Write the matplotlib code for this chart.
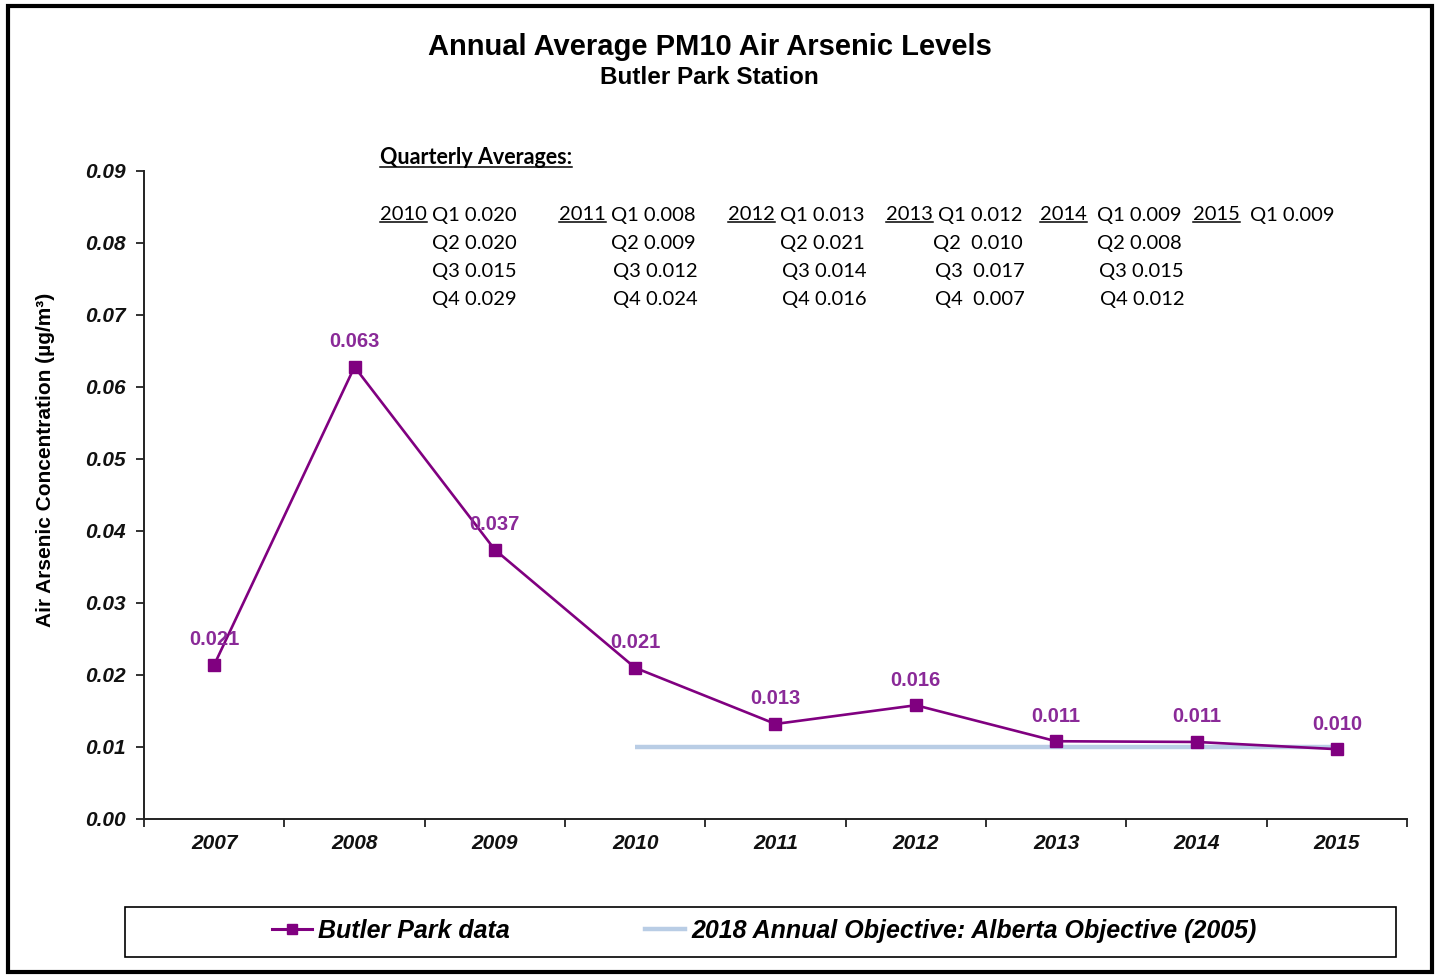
import matplotlib
matplotlib.use("Agg")
import matplotlib.pyplot as plt
from matplotlib.lines import Line2D
from matplotlib.patches import Rectangle

# ---- data ----
years = ["2007", "2008", "2009", "2010", "2011", "2012", "2013", "2014", "2015"]
annual_avg = [0.0214, 0.0628, 0.0374, 0.0210, 0.0132, 0.0158, 0.0108, 0.0107, 0.0097]
objective_years = ["2010", "2011", "2012", "2013", "2014", "2015"]
objective_vals = [0.010, 0.010, 0.010, 0.010, 0.010, 0.010]

q_years = ["2010", "2011", "2012", "2013", "2014", "2015"]
q_text = [
    ["Q1 0.020", "Q2 0.020", "Q3 0.015", "Q4 0.029"],
    ["Q1 0.008", "Q2 0.009", "Q3 0.012", "Q4 0.024"],
    ["Q1 0.013", "Q2 0.021", "Q3 0.014", "Q4 0.016"],
    ["Q1 0.012", "Q2  0.010", "Q3  0.017", "Q4  0.007"],
    ["Q1 0.009", "Q2 0.008", "Q3 0.015", "Q4 0.012"],
    ["Q1 0.009"],
]

W, H = 1439, 976
fig = plt.figure(figsize=(W / 100, H / 100), dpi=100)
fig.patch.set_facecolor("white")

SANS = ["Liberation Sans", "DejaVu Sans"]
CAL = ["Lato", "Liberation Sans", "DejaVu Sans"]
purple = "#800080"
label_purple = "#8a2a98"
obj_blue = "#b9cde5"

def fx(px):
    return px / W

def fy(py):
    return 1 - py / H

ax = fig.add_axes([fx(144), fy(819), fx(1407) - fx(144), fy(171) - fy(819)])
x = list(range(len(years)))
xo = [years.index(y) for y in objective_years]

ax.plot(xo, objective_vals, color=obj_blue, lw=3.2, solid_capstyle="butt", zorder=2)
ax.plot(x, annual_avg, color=purple, lw=1.9, marker="s", markersize=8.5,
        markerfacecolor=purple, markeredgecolor=purple, zorder=3)
for xi, v in zip(x, annual_avg):
    ax.annotate(f"{v:.3f}", (xi, v), xytext=(0, 18), textcoords="offset points",
                ha="center", va="center", color=label_purple, fontsize=14.5,
                fontweight="bold", family=SANS, zorder=4)

ax.set_xlim(-0.5, len(years) - 0.5)
ax.set_ylim(0, 0.09)
ax.set_yticks([i / 100 for i in range(10)])
ax.set_yticklabels([f"{i / 100:.2f}" for i in range(10)])
ax.set_xticks(x)
ax.set_xticklabels(years)
ax.set_xticks([i - 0.5 for i in range(len(years) + 1)], minor=True)
ax.tick_params(axis="x", which="major", length=0, pad=11)
ax.tick_params(axis="x", which="minor", length=6, width=1.3, direction="out", color="#222222")
ax.tick_params(axis="y", length=6, width=1.3, direction="out", color="#222222", pad=7)
for lab in ax.get_xticklabels() + ax.get_yticklabels():
    lab.set_fontfamily(SANS)
    lab.set_fontweight("bold")
    lab.set_fontstyle("italic")
    lab.set_fontsize(15)
    lab.set_color("#111111")
for s in ["top", "right"]:
    ax.spines[s].set_visible(False)
for s in ["left", "bottom"]:
    ax.spines[s].set_linewidth(1.4)
    ax.spines[s].set_color("#222222")
ax.set_facecolor("white")

fig.text(fx(46), fy(460), "Air Arsenic Concentration (µg/m³)", rotation=90,
         ha="center", va="center", fontsize=15, fontweight="bold", family=SANS)

# titles
fig.text(fx(710), fy(47), "Annual Average PM10 Air Arsenic Levels", ha="center", va="center",
         fontsize=21, fontweight="bold", family=SANS)
fig.text(fx(709), fy(77), "Butler Park Station", ha="center", va="center",
         fontsize=17.5, fontweight="bold", family=SANS)

# quarterly averages block
underline_items = []
t = fig.text(fx(380), fy(158), "Quarterly Averages:", ha="left", va="center",
             fontsize=15.5, fontweight="bold", family=CAL)
underline_items.append(t)
year_x = [380, 559, 728, 886, 1040, 1193]
q_x = [
    [432, 432, 432, 432],
    [611, 611, 613, 613],
    [780, 780, 782, 782],
    [938, 933, 935, 935],
    [1097, 1097, 1099, 1100],
    [1250],
]
row_y = [215, 243, 272, 300]
for yr, xx, qxs, rows in zip(q_years, year_x, q_x, q_text):
    t = fig.text(fx(xx), fy(row_y[0]), yr, ha="left", va="center", fontsize=14.5, family=CAL)
    underline_items.append(t)
    for ry, qx, s in zip(row_y, qxs, rows):
        fig.text(fx(qx), fy(ry), s, ha="left", va="center", fontsize=14.5, family=CAL)

fig.canvas.draw()
r = fig.canvas.get_renderer()
for t in underline_items:
    bb = t.get_window_extent(r)
    yline = bb.y0 + 1.5
    fig.add_artist(Line2D([bb.x0 / W, bb.x1 / W], [yline / H, yline / H],
                          transform=fig.transFigure, color="black", lw=1.1))

# legend box
fig.add_artist(Rectangle((fx(125), fy(957)), fx(1396) - fx(125), fy(907) - fy(957),
                         transform=fig.transFigure, fill=False, edgecolor="black", lw=1.2))
handles = [
    Line2D([], [], color=purple, lw=2.2, marker="s", markersize=7,
           markerfacecolor=purple, markeredgecolor=purple),
    Line2D([], [], color=obj_blue, lw=3.2),
]
leg = fig.legend(handles, ["Butler Park data", "2018 Annual Objective: Alberta Objective (2005)"],
                 loc="center", bbox_to_anchor=(fx(764), fy(931)), ncol=2, frameon=False,
                 prop={"family": SANS, "weight": "bold", "style": "italic", "size": 18},
                 handlelength=1.6, handletextpad=0.25, columnspacing=5.4)

# outer frame
fig.add_artist(Rectangle((fx(8), fy(972)), fx(1432) - fx(8), fy(6) - fy(972),
                         transform=fig.transFigure, fill=False, edgecolor="black", lw=3))

fig.savefig("out.png", dpi=100, facecolor="white")
